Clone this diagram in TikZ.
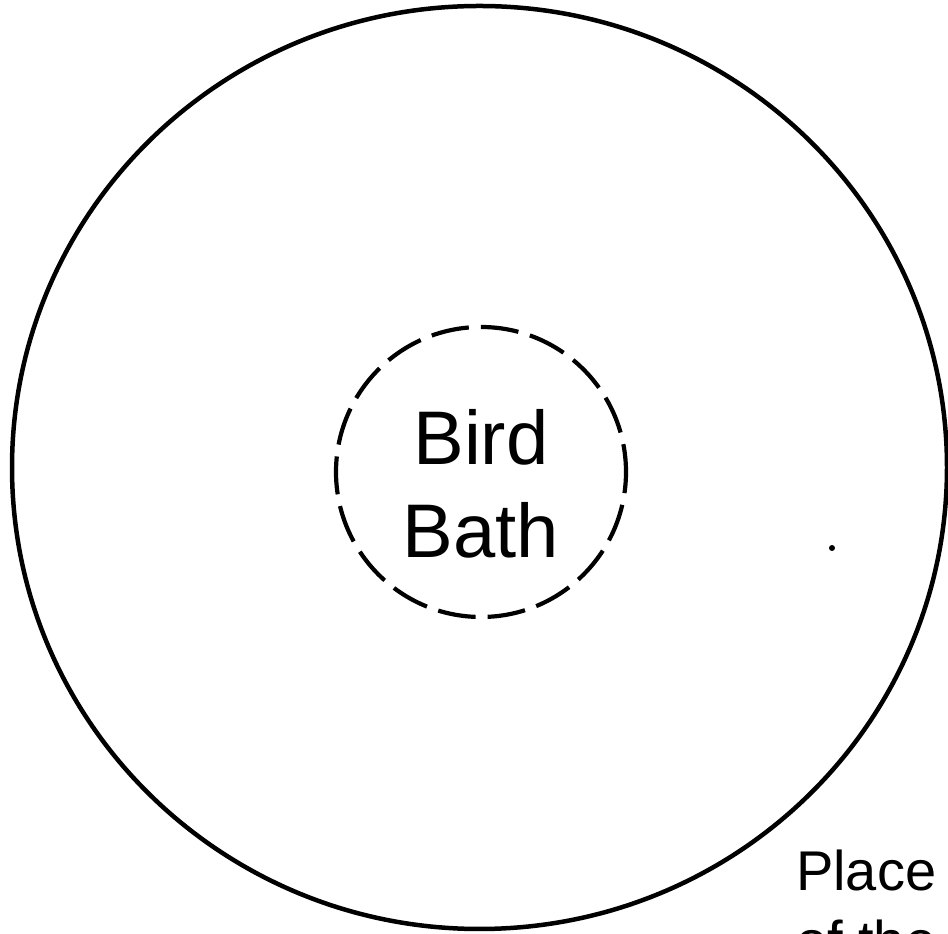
\documentclass[tikz,border=0pt]{standalone}
\usepackage{fontspec}
\setmainfont{Liberation Sans}
\usepackage{tikz}
\usetikzlibrary{shapes.geometric, positioning, calc}

\begin{document}
\begin{tikzpicture}[
    x=1pt, y=1pt,
    yardbox/.style={ellipse, draw=black, line width=4.5pt, minimum width=935pt, minimum height=923pt, inner sep=0pt},
    bathbox/.style={circle, draw=black, line width=4.2pt, dash pattern=on 38pt off 12pt, dash phase=10pt, minimum size=290pt, inner sep=0pt},
    biglabel/.style={align=center, inner sep=0pt, font=\fontsize{76}{93}\selectfont},
    sidelabel/.style={align=left, inner sep=0pt, font=\fontsize{56}{70}\selectfont}
]

% Frame of the picture
\useasboundingbox (0,0) rectangle (948,934);

% Garden outline and bird bath
\node[yardbox] (yard) at (479.5,466.5) {};
\node[bathbox] (bath) at (481,462) {};
\node[biglabel, anchor=north] (bathtext) at ([yshift=63pt]bath.center) {Bird\\Bath};

% Speck on the right
\fill[black] (832,386) circle (3pt) coordinate (speck);

% Note at bottom right (runs off the page)
\node[sidelabel, anchor=north west] (place) at (796,84) {Place\\of the};

\end{tikzpicture}
\end{document}
